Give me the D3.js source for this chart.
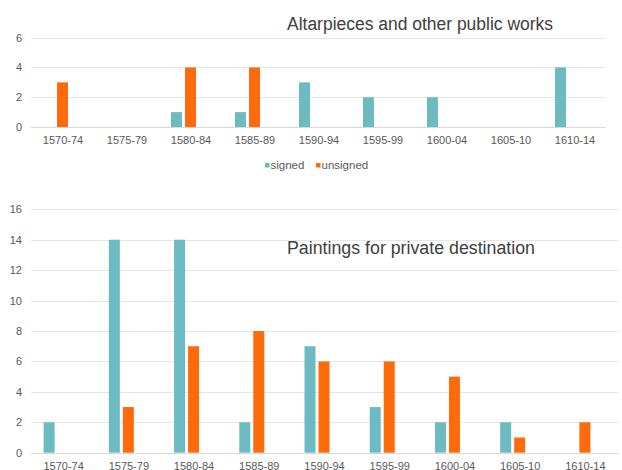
<!DOCTYPE html>
<html>
<head>
<meta charset="utf-8">
<script src="https://cdn.jsdelivr.net/npm/d3@7"></script>
<style>
  body { margin: 0; background: #fff; }
  svg { display: block; font-family: "Liberation Sans", Arial, sans-serif; }
</style>
</head>
<body>
<svg id="chart" width="622" height="470"></svg>
<script>
const categories = ["1570-74","1575-79","1580-84","1585-89","1590-94","1595-99","1600-04","1605-10","1610-14"];
const seriesNames = ["signed","unsigned"];
const publicSigned   = [0,0,1,1,3,2,2,0,4];
const publicUnsigned = [3,0,4,4,0,0,0,0,0];
const privateSigned   = [2,14,14,2,7,3,2,2,0];
const privateUnsigned = [0,3,7,8,6,6,5,1,2];
const publicTicks = [0,2,4,6];
const privateTicks = [0,2,4,6,8,10,12,14,16];
const colors = {signed: "#6dbbc2", unsigned: "#ff6a0a"};

const svg = d3.select("#chart");

function drawPanel(cfg) {
  const g = svg.append("g");
  const x0 = d3.scaleBand().domain(categories).range([cfg.x0, cfg.x1]).padding(0);
  const x1 = d3.scaleBand().domain(seriesNames).range([-20, 5]).paddingInner(3/14).paddingOuter(0);
  const y = d3.scaleLinear().domain([0, cfg.max]).range([cfg.yBottom, cfg.yTop]);

  // gridlines
  g.append("g").selectAll("line").data(cfg.ticks).join("line")
    .attr("x1", cfg.x0).attr("x2", cfg.gridEnd)
    .attr("y1", d => Math.round(y(d)) + 0.5).attr("y2", d => Math.round(y(d)) + 0.5)
    .attr("stroke", d => d === 0 ? "#d9d9d9" : "#e6e6e6").attr("stroke-width", 1);

  // y labels
  g.append("g").selectAll("text").data(cfg.ticks).join("text")
    .attr("x", 22).attr("y", d => y(d) + 4)
    .attr("text-anchor", "end").attr("font-size", 11).attr("fill", "#595959")
    .text(d => d);

  // x labels
  g.append("g").selectAll("text").data(categories).join("text")
    .attr("x", d => x0(d) + x0.bandwidth() / 2).attr("y", cfg.yBottom + 17)
    .attr("text-anchor", "middle").attr("font-size", 11).attr("fill", "#595959")
    .text(d => d);

  // bars
  const rows = categories.map((c, i) => ({c, vals: [
    {k: "signed", v: cfg.signed[i]}, {k: "unsigned", v: cfg.unsigned[i]}]}));
  g.append("g").selectAll("g").data(rows).join("g")
    .attr("transform", d => `translate(${x0(d.c) + x0.bandwidth() / 2},0)`)
    .selectAll("rect").data(d => d.vals.filter(e => e.v > 0)).join("rect")
    .attr("x", d => x1(d.k)).attr("width", x1.bandwidth())
    .attr("y", d => y(d.v)).attr("height", d => y(0) - y(d.v))
    .attr("fill", d => colors[d.k]);

  // title
  g.append("text").attr("x", cfg.titleX).attr("y", cfg.titleY)
    .attr("font-size", 18).attr("fill", "#404040")
    .attr("textLength", cfg.titleLen).attr("lengthAdjust", "spacingAndGlyphs")
    .text(cfg.title);
}

drawPanel({x0: 31, x1: 607, gridEnd: 605, yTop: 37.7, yBottom: 127, max: 6, ticks: publicTicks,
  signed: publicSigned, unsigned: publicUnsigned,
  title: "Altarpieces and other public works", titleX: 287, titleY: 29.5, titleLen: 266});

drawPanel({x0: 31, x1: 618, gridEnd: 618, yTop: 209.3, yBottom: 452.7, max: 16, ticks: privateTicks,
  signed: privateSigned, unsigned: privateUnsigned,
  title: "Paintings for private destination", titleX: 287, titleY: 253.5, titleLen: 248});

// legend
const legend = svg.append("g");
const legendItems = [{k: "signed", x: 265, tx: 270.5}, {k: "unsigned", x: 316, tx: 321.5}];
legend.selectAll("rect").data(legendItems).join("rect")
  .attr("x", d => d.x).attr("y", 163).attr("width", 4.5).attr("height", 4.5)
  .attr("fill", d => colors[d.k]);
legend.selectAll("text").data(legendItems).join("text")
  .attr("x", d => d.tx).attr("y", 168.5).attr("font-size", 11.5).attr("fill", "#595959")
  .text(d => d.k);
</script>
</body>
</html>
